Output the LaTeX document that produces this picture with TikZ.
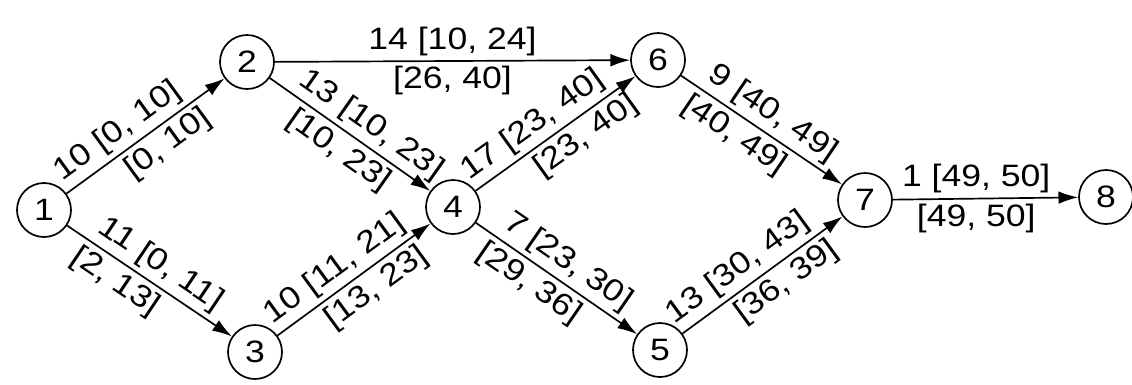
\documentclass[tikz,border=0pt]{standalone}
\usepackage{fontspec}
\setmainfont[FakeStretch=1.15]{Liberation Sans}
\usetikzlibrary{arrows.meta}

\begin{document}
\begin{tikzpicture}[x=0.025cm, y=-0.025cm,
    every node/.style={font=\fontsize{22}{26}\selectfont},
    event/.style={draw, circle, line width=1.2pt, minimum size=1.35cm, inner sep=0pt},
    act/.style={-{Latex[length=14pt,width=9pt]}, line width=1.2pt}]

\useasboundingbox (0,0) rectangle (1132,384);

% events
\node[event] (e1) at (44,210) {1};
\node[event] (e2) at (247,62) {2};
\node[event] (e3) at (255,352) {3};
\node[event] (e4) at (453,207) {4};
\node[event] (e5) at (660,350) {5};
\node[event] (e6) at (658,60) {6};
\node[event] (e7) at (865,200) {7};
\node[event] (e8) at (1106,197) {8};

% activities
\draw[act] (e1) -- node [pos=0.4, above, sloped] {10 [0, 10]}
                   node [pos=0.57, below, sloped] {[0, 10]} (e2);
\draw[act] (e1) -- node [pos=0.5, above, sloped] {11 [0, 11]}
                   node [pos=0.36, below, sloped] {[2, 13]} (e3);
\draw[act] (e2) -- node [midway, above] {14 [10, 24]}
                   node [midway, below] {[26, 40]} (e6);
\draw[act] (e2) -- node [pos=0.56, above, sloped] {13 [10, 23]}
                   node [pos=0.5, below, sloped] {[10, 23]} (e4);
\draw[act] (e3) -- node [pos=0.45, above, sloped] {10 [11, 21]}
                   node [pos=0.57, below, sloped] {[13, 23]} (e4);
\draw[act] (e4) -- node [pos=0.43, above, sloped] {17 [23, 40]}
                   node [pos=0.62, below, sloped] {[23, 40]} (e6);
\draw[act] (e4) -- node [pos=0.5, above, sloped] {7 [23, 30]}
                   node [pos=0.4, below, sloped] {[29, 36]} (e5);
\draw[act] (e6) -- node [pos=0.5, above, sloped] {9 [40, 49]}
                   node [pos=0.4, below, sloped] {[40, 49]} (e7);
\draw[act] (e5) -- node [pos=0.42, above, sloped] {13 [30, 43]}
                   node [pos=0.58, below, sloped] {[36, 39]} (e7);
\draw[act] (e7) -- node [pos=0.45, above] {1 [49, 50]}
                   node [pos=0.45, below] {[49, 50]} (e8);

\end{tikzpicture}
\end{document}
